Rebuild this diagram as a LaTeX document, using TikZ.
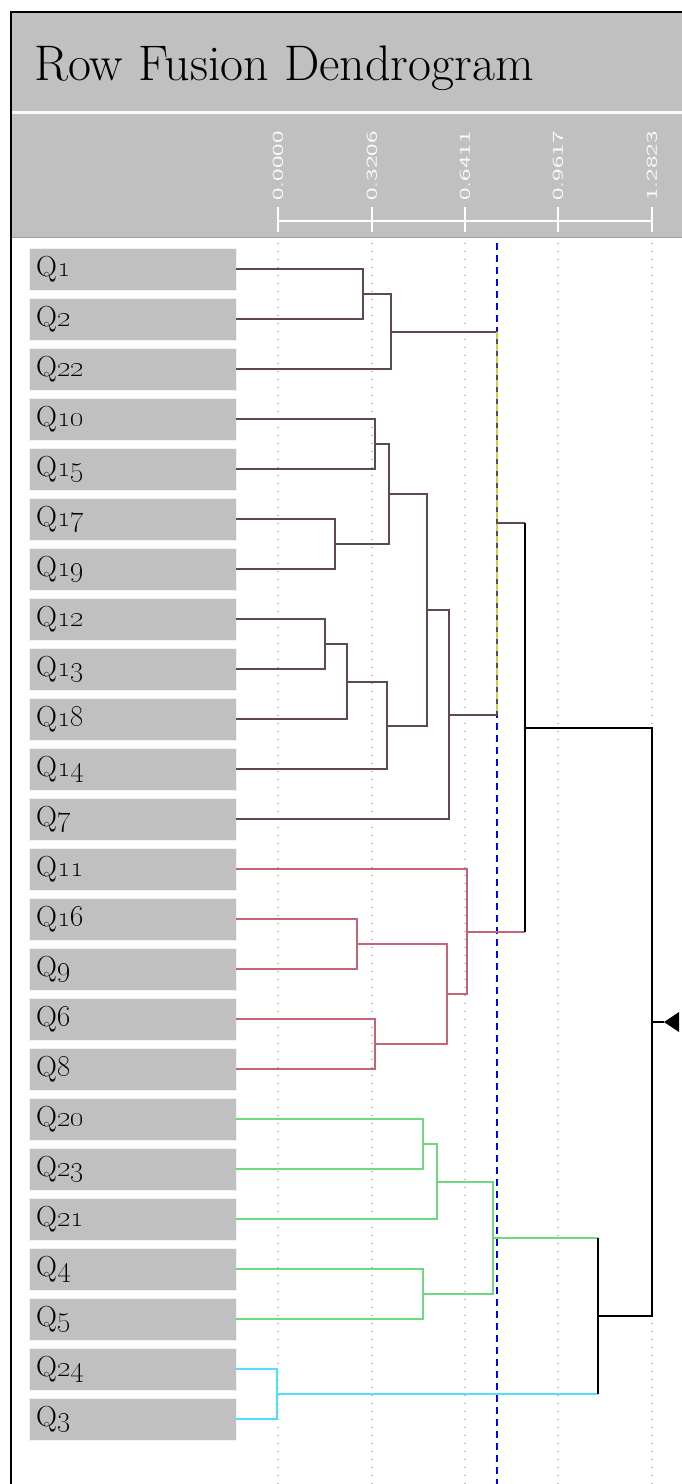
\documentclass[tikz,border=0pt]{standalone}
\usepackage{graphicx}
\definecolor{panelgray}{RGB}{192,192,192}
\definecolor{dkclus}{RGB}{96,72,80}
\definecolor{rdclus}{RGB}{196,100,116}
\definecolor{gnclus}{RGB}{112,216,128}
\definecolor{cyclus}{RGB}{80,224,255}
\definecolor{gridgray}{RGB}{185,185,185}
\definecolor{cutyellow}{RGB}{200,210,70}
\begin{document}
\begin{tikzpicture}[x=1pt,y=-1pt,qbox/.style={shape=rectangle,fill=panelgray,draw=white!80!panelgray,anchor=west,minimum height=42,text width=193,inner xsep=7,font=\fontsize{29}{32}\selectfont},tick/.style={rotate=90,anchor=west,inner sep=0,text=white!94!panelgray,font=\sffamily\fontsize{15}{18}\selectfont},gridln/.style={gridgray,line width=1.2,dash pattern=on 1.2 off 6.8},axisln/.style={white,line width=1.5},lk/.style={line width=2},lkD/.style={lk,dkclus},lkR/.style={lk,rdclus},lkG/.style={lk,gnclus},lkC/.style={lk,cyclus},lkK/.style={lk,black},cutln/.style={blue,line width=2,dash pattern=on 7 off 5}]
\def\bx{29};
\useasboundingbox (0,0) rectangle (682,1484);

%HEADER
\fill[panelgray] (11,12) rectangle (682,111);
\fill[white!90!panelgray] (11,111) rectangle (682,114);
\fill[panelgray] (11,114) rectangle (682,237);
\draw[gray!75,line width=1.5] (11,237.5) -- (682,237.5);
\draw[line width=2] (11,1484) -- (11,12) -- (682,12);
\node[anchor=base west,inner sep=0,font=\fontsize{50}{56}\selectfont] (title) at (34,80) {Row Fusion Dendrogram};

%AXIS
\draw[axisln] (278,221) -- (652,221);
\draw[axisln] (278,207) -- (278,232);
\draw[axisln] (372,207) -- (372,232);
\draw[axisln] (465,207) -- (465,232);
\draw[axisln] (558,207) -- (558,232);
\draw[axisln] (652,207) -- (652,232);
\node[tick] (t0) at (278,201) {\scalebox{1.7}[1]{0.0000}};
\node[tick] (t1) at (372,201) {\scalebox{1.7}[1]{0.3206}};
\node[tick] (t2) at (465,201) {\scalebox{1.7}[1]{0.6411}};
\node[tick] (t3) at (558,201) {\scalebox{1.7}[1]{0.9617}};
\node[tick] (t4) at (652,201) {\scalebox{1.7}[1]{1.2823}};

%GRID
\draw[gridln] (278,243) -- (278,1484);
\draw[gridln] (372,243) -- (372,1484);
\draw[gridln] (465,243) -- (465,1484);
\draw[gridln] (558,243) -- (558,1484);
\draw[gridln] (652,243) -- (652,1484);
\draw[cutln] (497,243) -- (497,1484);

%ROWS
\node[qbox] (q1) at (\bx,269) {Q\oldstylenums{1}};
\node[qbox] (q2) at (\bx,319) {Q\oldstylenums{2}};
\node[qbox] (q22) at (\bx,369) {Q\oldstylenums{22}};
\node[qbox] (q10) at (\bx,419) {Q\oldstylenums{10}};
\node[qbox] (q15) at (\bx,469) {Q\oldstylenums{15}};
\node[qbox] (q17) at (\bx,519) {Q\oldstylenums{17}};
\node[qbox] (q19) at (\bx,569) {Q\oldstylenums{19}};
\node[qbox] (q12) at (\bx,619) {Q\oldstylenums{12}};
\node[qbox] (q13) at (\bx,669) {Q\oldstylenums{13}};
\node[qbox] (q18) at (\bx,719) {Q\oldstylenums{18}};
\node[qbox] (q14) at (\bx,769) {Q\oldstylenums{14}};
\node[qbox] (q7) at (\bx,819) {Q\oldstylenums{7}};
\node[qbox] (q11) at (\bx,869) {Q\oldstylenums{11}};
\node[qbox] (q16) at (\bx,919) {Q\oldstylenums{16}};
\node[qbox] (q9) at (\bx,969) {Q\oldstylenums{9}};
\node[qbox] (q6) at (\bx,1019) {Q\oldstylenums{6}};
\node[qbox] (q8) at (\bx,1069) {Q\oldstylenums{8}};
\node[qbox] (q20) at (\bx,1119) {Q\oldstylenums{20}};
\node[qbox] (q23) at (\bx,1169) {Q\oldstylenums{23}};
\node[qbox] (q21) at (\bx,1219) {Q\oldstylenums{21}};
\node[qbox] (q4) at (\bx,1269) {Q\oldstylenums{4}};
\node[qbox] (q5) at (\bx,1319) {Q\oldstylenums{5}};
\node[qbox] (q24) at (\bx,1369) {Q\oldstylenums{24}};
\node[qbox] (q3) at (\bx,1419) {Q\oldstylenums{3}};

%MERGES
\coordinate (m1) at (363,294);
\coordinate (m2) at (391,332);
\coordinate (m3) at (375,444);
\coordinate (m4) at (335,544);
\coordinate (m5) at (389,494);
\coordinate (m6) at (325,644);
\coordinate (m7) at (347,682);
\coordinate (m8) at (387,726);
\coordinate (m9) at (427,610);
\coordinate (m10) at (449,715);
\coordinate (m11) at (497,523);
\coordinate (r1) at (357,944);
\coordinate (r2) at (375,1044);
\coordinate (r3) at (447,994);
\coordinate (r4) at (467,932);
\coordinate (g1) at (423,1144);
\coordinate (g2) at (437,1182);
\coordinate (g3) at (423,1294);
\coordinate (g4) at (493,1238);
\coordinate (c1) at (277,1394);
\coordinate (k1) at (525,728);
\coordinate (k2) at (598,1316);
\coordinate (k3) at (652,1022);
\coordinate (tip) at (664,1022);

%DARK CLUSTER
\draw[lkD] (q1.east) -| (m1) |- (q2.east);
\draw[lkD] (m1) -| (m2) |- (q22.east);
\draw[lkD] (q10.east) -| (m3) |- (q15.east);
\draw[lkD] (q17.east) -| (m4) |- (q19.east);
\draw[lkD] (m3) -| (m5) |- (m4);
\draw[lkD] (q12.east) -| (m6) |- (q13.east);
\draw[lkD] (m6) -| (m7) |- (q18.east);
\draw[lkD] (m7) -| (m8) |- (q14.east);
\draw[lkD] (m5) -| (m9) |- (m8);
\draw[lkD] (m9) -| (m10) |- (q7.east);
\draw[lkD] (m2) -| (m11) |- (m10);
\draw[cutyellow,line width=2,dash pattern=on 7 off 5] (m2 -| m11) -- (m10 -| m11);

%RED CLUSTER
\draw[lkR] (q16.east) -| (r1) |- (q9.east);
\draw[lkR] (q6.east) -| (r2) |- (q8.east);
\draw[lkR] (r1) -| (r3) |- (r2);
\draw[lkR] (q11.east) -| (r4) |- (r3);

%GREEN CLUSTER
\draw[lkG] (q20.east) -| (g1) |- (q23.east);
\draw[lkG] (g1) -| (g2) |- (q21.east);
\draw[lkG] (q4.east) -| (g3) |- (q5.east);
\draw[lkG] (g2) -| (g4) |- (g3);

%CYAN CLUSTER
\draw[lkC] (q24.east) -| (c1) |- (q3.east);

%TOP LINKS
\draw[lkD] (m11) -- (m11 -| k1);
\draw[lkR] (r4) -- (r4 -| k1);
\draw[lkK] (m11 -| k1) -- (r4 -| k1);
\draw[lkG] (g4) -- (g4 -| k2);
\draw[lkC] (c1) -- (c1 -| k2);
\draw[lkK] (g4 -| k2) -- (c1 -| k2);
\draw[lkK] (k1) -| (k3) |- (k2);
\draw[lkK] (k3) -- (tip);
\fill (tip) -- ++(15,-10) -- ++(0,20) -- cycle;
\end{tikzpicture}
\end{document}
